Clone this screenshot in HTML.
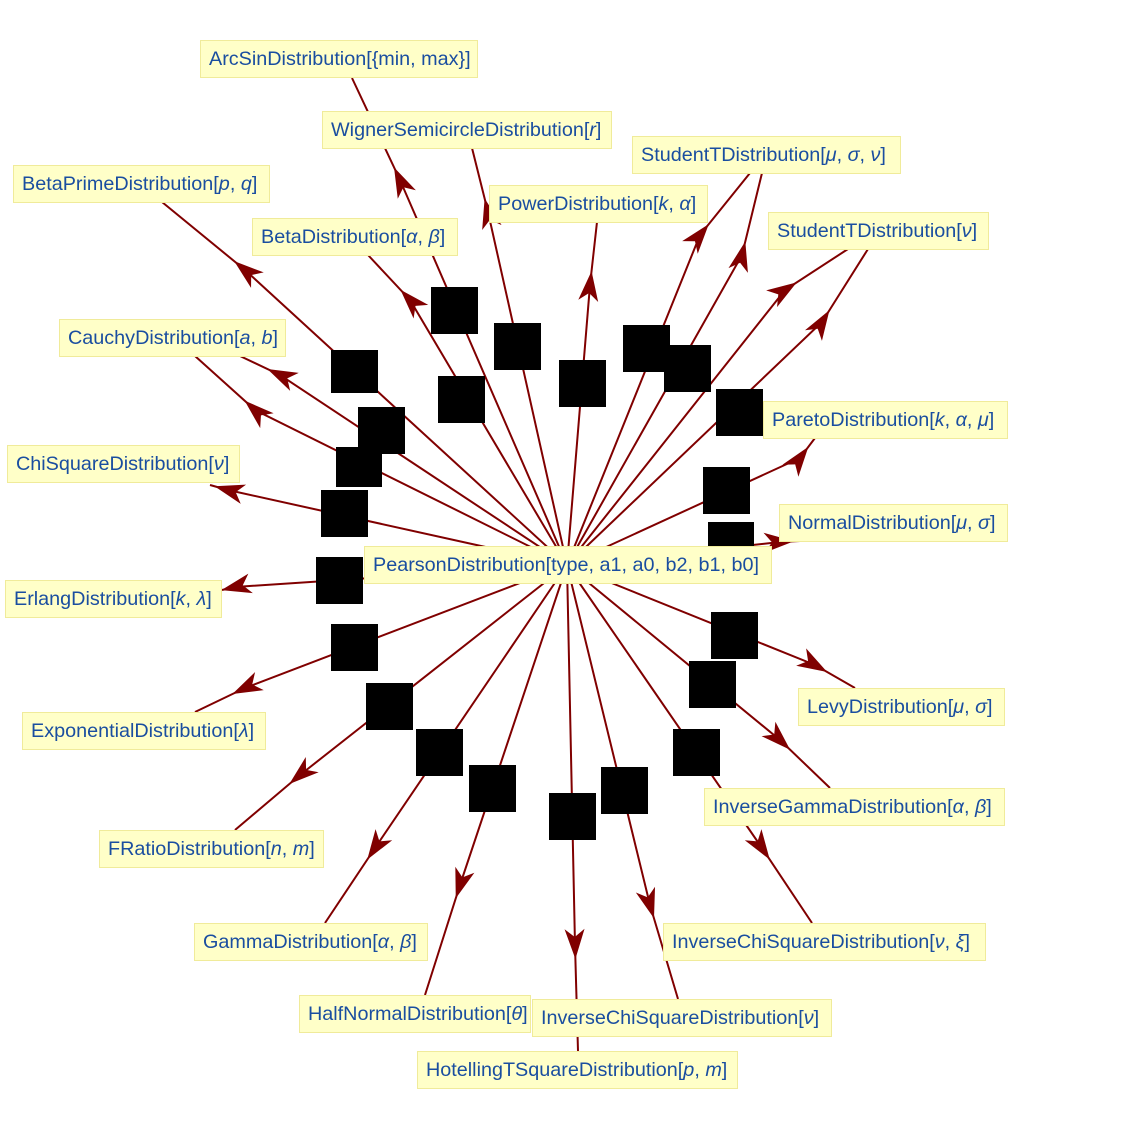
<!DOCTYPE html>
<html><head><meta charset="utf-8">
<style>
body{margin:0;background:#fff;}
#w{position:relative;width:1140px;height:1136px;overflow:hidden;font-family:"Liberation Sans",sans-serif;}
svg{position:absolute;left:0;top:0;}
.l{position:absolute;background:#ffffc8;border:1px solid #f0eb9a;color:#1a4ea0;font-size:19.8px;line-height:36px;padding:0 8px;white-space:nowrap;box-sizing:border-box;height:38px;}
.b{position:absolute;background:#000;width:47px;height:47px;}
</style></head><body><div id="w">
<svg id="s" width="1140" height="1136"></svg>
<div class="b" style="left:431px;top:287px"></div>
<div class="b" style="left:494px;top:323px"></div>
<div class="b" style="left:331px;top:350px;height:43px"></div>
<div class="b" style="left:438px;top:376px"></div>
<div class="b" style="left:358px;top:407px"></div>
<div class="b" style="left:559px;top:360px"></div>
<div class="b" style="left:623px;top:325px"></div>
<div class="b" style="left:664px;top:345px"></div>
<div class="b" style="left:716px;top:389px"></div>
<div class="b" style="left:336px;top:447px;height:40px;width:46px"></div>
<div class="b" style="left:321px;top:490px"></div>
<div class="b" style="left:703px;top:467px"></div>
<div class="b" style="left:708px;top:522px;height:25px;width:46px"></div>
<div class="b" style="left:316px;top:557px"></div>
<div class="b" style="left:331px;top:624px"></div>
<div class="b" style="left:711px;top:612px"></div>
<div class="b" style="left:689px;top:661px"></div>
<div class="b" style="left:366px;top:683px"></div>
<div class="b" style="left:416px;top:729px"></div>
<div class="b" style="left:673px;top:729px"></div>
<div class="b" style="left:469px;top:765px"></div>
<div class="b" style="left:601px;top:767px"></div>
<div class="b" style="left:549px;top:793px"></div>

<div class="l" style="left:200px;top:40px;width:278px">ArcSinDistribution[{min, max}]</div>
<div class="l" style="left:322px;top:111px;width:290px">WignerSemicircleDistribution[<i>r</i>]</div>
<div class="l" style="left:632px;top:136px;width:269px">StudentTDistribution[<i>μ</i>, <i>σ</i>, <i>ν</i>]</div>
<div class="l" style="left:13px;top:165px;width:257px">BetaPrimeDistribution[<i>p</i>, <i>q</i>]</div>
<div class="l" style="left:489px;top:185px;width:219px">PowerDistribution[<i>k</i>, <i>α</i>]</div>
<div class="l" style="left:252px;top:218px;width:206px">BetaDistribution[<i>α</i>, <i>β</i>]</div>
<div class="l" style="left:768px;top:212px;width:221px">StudentTDistribution[<i>ν</i>]</div>
<div class="l" style="left:59px;top:319px;width:227px">CauchyDistribution[<i>a</i>, <i>b</i>]</div>
<div class="l" style="left:763px;top:401px;width:245px">ParetoDistribution[<i>k</i>, <i>α</i>, <i>μ</i>]</div>
<div class="l" style="left:7px;top:445px;width:233px">ChiSquareDistribution[<i>ν</i>]</div>
<div class="l" style="left:779px;top:504px;width:229px">NormalDistribution[<i>μ</i>, <i>σ</i>]</div>
<div class="l" style="left:364px;top:546px;width:408px">PearsonDistribution[type, a1, a0, b2, b1, b0]</div>
<div class="l" style="left:5px;top:580px;width:217px">ErlangDistribution[<i>k</i>, <i>λ</i>]</div>
<div class="l" style="left:798px;top:688px;width:207px">LevyDistribution[<i>μ</i>, <i>σ</i>]</div>
<div class="l" style="left:22px;top:712px;width:244px">ExponentialDistribution[<i>λ</i>]</div>
<div class="l" style="left:704px;top:788px;width:301px">InverseGammaDistribution[<i>α</i>, <i>β</i>]</div>
<div class="l" style="left:99px;top:830px;width:225px">FRatioDistribution[<i>n</i>, <i>m</i>]</div>
<div class="l" style="left:663px;top:923px;width:323px">InverseChiSquareDistribution[<i>ν</i>, <i>ξ</i>]</div>
<div class="l" style="left:194px;top:923px;width:234px">GammaDistribution[<i>α</i>, <i>β</i>]</div>
<div class="l" style="left:299px;top:995px;width:232px">HalfNormalDistribution[<i>θ</i>]</div>
<div class="l" style="left:532px;top:999px;width:300px">InverseChiSquareDistribution[<i>ν</i>]</div>
<div class="l" style="left:417px;top:1051px;width:321px">HotellingTSquareDistribution[<i>p</i>, <i>m</i>]</div>
</div>
<script>
var cx=567,cy=565;
var E=[[400,180,352,78],[488,212,472,148],[590,285,597,222],[700,235,750,173],[742,255,762,173],
[785,290,848,249],[822,322,868,249],[245,270,162,202],[410,300,368,255],[255,410,195,356],[280,375,240,356],
[800,458,815,438],[228,490,210,485],[780,542,800,541],[235,587,222,590],[815,665,855,688],[245,688,195,712],
[780,740,830,788],[300,775,235,830],[762,848,812,923],[375,848,325,923],[460,885,425,995],[650,905,678,999],[575,945,578,1051]];
var s='';
E.forEach(function(e){
 s+='<path d="M'+cx+' '+cy+' Q'+((cx+e[0]*3)/4)+' '+((cy+e[1]*3)/4)+' '+e[0]+' '+e[1]+' L'+e[2]+' '+e[3]+'" fill="none" stroke="#800000" stroke-width="2"/>';
 var dx=e[2]-e[0],dy=e[3]-e[1],L=Math.hypot(dx,dy);dx/=L;dy/=L;
 var tx=e[0]+dx*14,ty=e[1]+dy*14,bx=e[0]-dx*16,by=e[1]-dy*16,nx=-dy,ny=dx,
 mx=e[0]-dx*8,my=e[1]-dy*8;
 s+='<polygon points="'+tx+','+ty+' '+(bx+nx*10)+','+(by+ny*10)+' '+mx+','+my+' '+(bx-nx*10)+','+(by-ny*10)+'" fill="#800000"/>';
});
document.getElementById('s').innerHTML=s;
</script>
</body></html>
